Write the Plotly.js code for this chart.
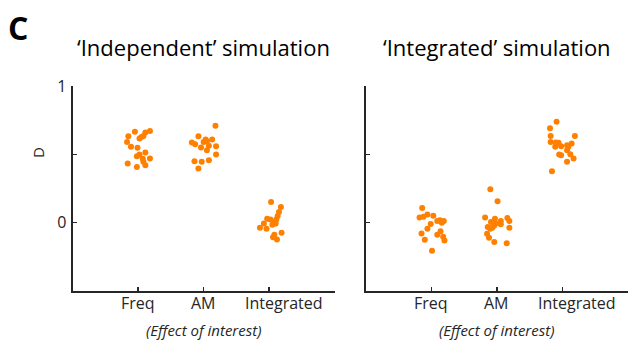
<!DOCTYPE html>
<html><head><meta charset="utf-8">
<script src="https://cdn.plot.ly/plotly-3.0.1.min.js"></script>
<style>html,body{margin:0;padding:0;background:#fff}#chart{width:629px;height:341px}</style>
</head><body><div id="chart"></div>
<script>
// ---- data ----
const panelLetter = 'C';
const panelTitles = ['\u2018Independent\u2019 simulation', '\u2018Integrated\u2019 simulation'];
const categories = ['Freq', 'AM', 'Integrated'];
const xTitle = '(Effect of interest)';
const yTitle = 'D';
const yTickVals = [0, 0.5, 1];
const yTickText = ['0', '', '1'];

// 'Independent' simulation
const indepFreqJit = [-0.05,-0.15,0.11,0.18,0.08,0.02,0.05,-0.17,-0.11,-0.01,0.11,0.02,-0.02,0.18,0.07,0.08,0.11,-0.16,-0.02];
const indepFreqD   = [0.665,0.633,0.659,0.670,0.635,0.616,0.626,0.591,0.555,0.548,0.514,0.499,0.486,0.470,0.468,0.445,0.420,0.433,0.408];
const indepAMJit   = [0.18,-0.08,0.03,0.13,-0.18,-0.13,0.0,0.08,-0.04,0.19,0.05,0.19,-0.14,-0.03,0.08,-0.08,0.05];
const indepAMD     = [0.709,0.633,0.609,0.609,0.587,0.574,0.591,0.562,0.550,0.560,0.530,0.499,0.450,0.445,0.457,0.396,0.596];
const indepIntJit  = [0.03,0.18,0.15,0.13,-0.03,0.02,0.11,0.07,0.10,0.05,-0.08,-0.14,-0.04,0.19,0.08,0.12,0.06];
const indepIntD    = [0.151,0.114,0.078,0.048,0.029,0.024,0.024,0.004,-0.007,-0.015,-0.007,-0.037,-0.044,-0.073,-0.088,-0.123,-0.106];

// 'Integrated' simulation
const integFreqJit = [-0.14,-0.18,-0.12,-0.06,0.03,-0.01,0.09,0.13,0.16,0.19,-0.06,0.14,-0.15,0.09,0.18,0.20,-0.10,0.01];
const integFreqD   = [0.107,0.037,0.044,0.059,0.051,-0.010,0.012,0.017,0.000,0.012,-0.044,-0.062,-0.079,-0.088,-0.103,-0.130,-0.125,-0.205];
const integAMJit   = [-0.10,0.01,-0.18,-0.03,-0.09,0.06,0.16,0.19,-0.14,-0.07,-0.04,-0.02,0.06,0.19,-0.10,-0.15,-0.12,-0.04,0.15];
const integAMD     = [0.244,0.156,0.037,0.029,0.004,0.012,0.034,0.012,-0.032,-0.037,-0.020,-0.007,-0.012,-0.037,-0.044,-0.081,-0.110,-0.142,-0.150];
const integIntJit  = [-0.09,-0.19,-0.18,0.19,-0.18,-0.10,-0.06,-0.11,-0.02,0.07,0.09,0.14,0.07,-0.05,-0.02,0.12,0.17,0.07,-0.16];
const integIntD    = [0.738,0.690,0.635,0.635,0.590,0.587,0.584,0.555,0.560,0.567,0.555,0.580,0.530,0.499,0.494,0.501,0.470,0.445,0.376];

// ---- build ----
const ORANGE = 'rgb(255,128,0)';
const AX = '#262626';
const FONT = 'Open Sans, Noto Sans, sans-serif';
const panels = [
  [[indepFreqJit, indepFreqD], [indepAMJit, indepAMD], [indepIntJit, indepIntD]],
  [[integFreqJit, integFreqD], [integAMJit, integAMD], [integIntJit, integIntD]]
];
const traces = [];
panels.forEach((groups, p) => {
  groups.forEach((g, ci) => {
    traces.push({
      type: 'scatter', mode: 'markers',
      x: g[0].map(j => ci + 1 + j), y: g[1],
      xaxis: p === 0 ? 'x' : 'x2', yaxis: p === 0 ? 'y' : 'y2',
      marker: {color: ORANGE, size: 6, line: {width: 0}},
      hoverinfo: 'skip', showlegend: false, cliponaxis: false
    });
  });
});

const W = 629, H = 341;
const xDom = [[72.7 / W, 334.6 / W], [365.8 / W, 628 / W]];
const yDom = [1 - 291 / H, 1 - 86 / H];

function xa(dom, anchor) {
  return {domain: dom, anchor: anchor, range: [0, 4], showline: true, linecolor: AX, linewidth: 2,
    ticks: 'inside', ticklen: 4, tickwidth: 1.5, tickcolor: AX, tickvals: [1, 2, 3],
    showticklabels: false, showgrid: false, zeroline: false, fixedrange: true};
}
function ya(anchor, labels) {
  return {domain: yDom, anchor: anchor, range: [-0.5, 1], showline: true, linecolor: AX, linewidth: 2,
    ticks: 'inside', ticklen: 4, tickwidth: 1.5, tickcolor: AX, tickvals: yTickVals, ticktext: yTickText,
    showticklabels: labels, tickfont: {family: FONT, size: 16, color: AX}, ticklabelstandoff: 1,
    showgrid: false, zeroline: false, fixedrange: true};
}

const annotations = [];
annotations.push({text: '<b>' + panelLetter + '</b>', xref: 'paper', yref: 'paper', x: 6 / W, y: 1 - 27 / H,
  xanchor: 'left', yanchor: 'middle', showarrow: false, font: {family: FONT, size: 32, color: '#000'}});
panelTitles.forEach((t, p) => {
  const xc = (xDom[p][0] + xDom[p][1]) / 2;
  annotations.push({text: t, xref: 'paper', yref: 'paper', x: xc, y: 1 - 47 / H, xanchor: 'center', yanchor: 'middle',
    showarrow: false, font: {family: FONT, size: 22, color: '#000'}});
  annotations.push({text: '<i>' + xTitle + '</i>', xref: 'paper', yref: 'paper', x: xc, y: 1 - 330 / H,
    xanchor: 'center', yanchor: 'middle', showarrow: false, font: {family: FONT, size: 15, color: AX}});
  categories.forEach((c, ci) => {
    annotations.push({text: c, xref: p === 0 ? 'x' : 'x2', yref: 'paper', x: ci + 1, y: 1 - 303 / H,
      xanchor: 'center', yanchor: 'middle', xshift: ci === 2 ? 15 : 0, showarrow: false,
      font: {family: FONT, size: 16, color: AX}});
  });
});
annotations.push({text: yTitle, xref: 'paper', yref: 'paper', x: 38 / W, y: 1 - 153 / H, textangle: -90,
  xanchor: 'center', yanchor: 'middle', showarrow: false, font: {family: FONT, size: 15, color: AX}});

const layout = {
  width: W, height: H, margin: {l: 0, r: 0, t: 0, b: 0},
  paper_bgcolor: '#fff', plot_bgcolor: 'rgba(0,0,0,0)', showlegend: false,
  xaxis: xa(xDom[0], 'y'), yaxis: ya('x', true),
  xaxis2: xa(xDom[1], 'y2'), yaxis2: ya('x2', false),
  annotations: annotations
};
Plotly.newPlot('chart', traces, layout, {staticPlot: true, displayModeBar: false});
</script></body></html>
